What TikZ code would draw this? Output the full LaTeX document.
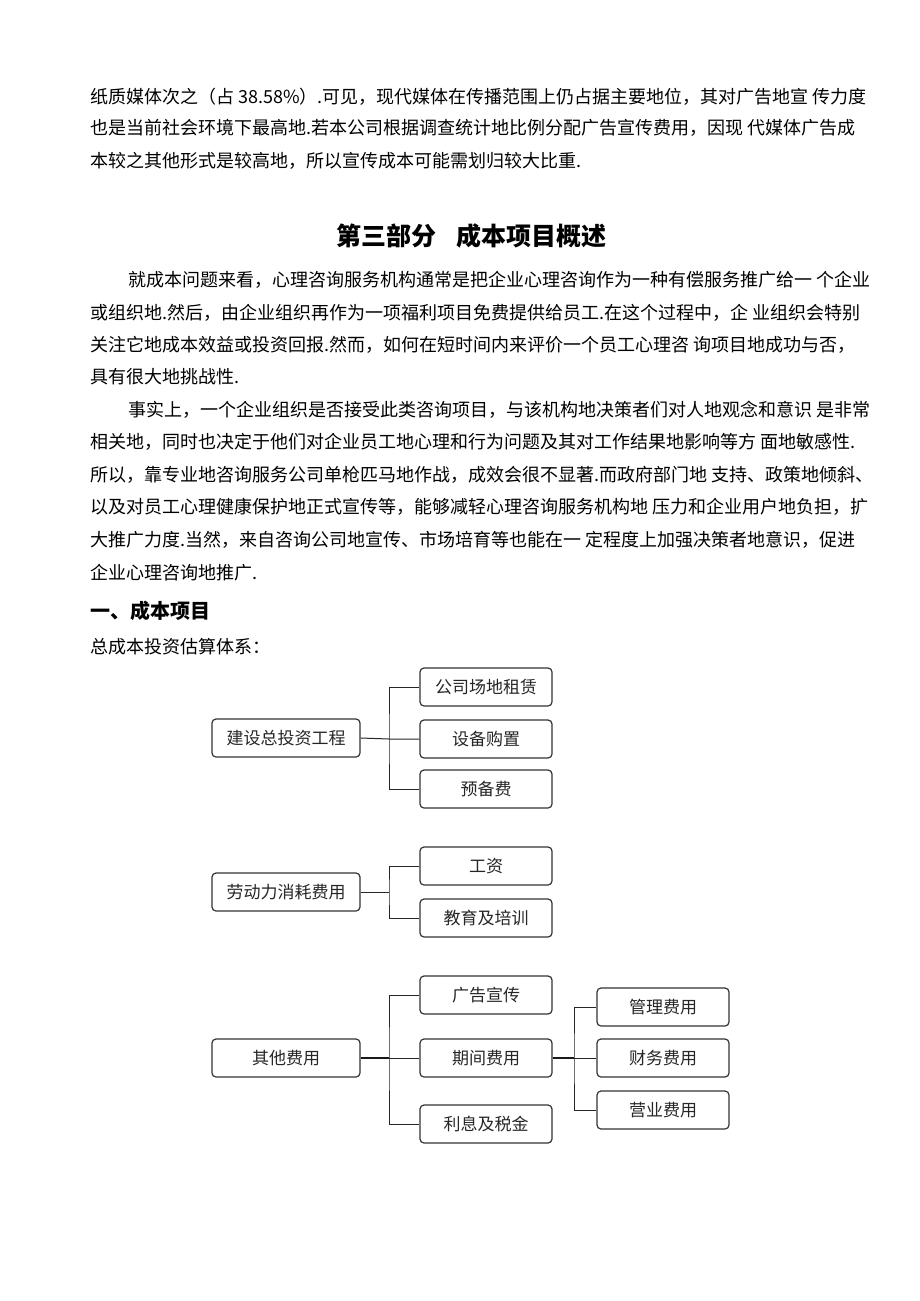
\documentclass[tikz,border=0pt]{standalone}
\usepackage{fontspec}
\setmainfont{Noto Sans CJK SC}
\begin{document}
\begin{tikzpicture}[x=1pt,y=-1pt,
  txt/.style={anchor=west,inner sep=0pt,text height=0.88em,text depth=0.12em,font=\fontsize{18}{18}\selectfont},
  box/.style={draw=black!80,line width=1.2pt,rounded corners=4pt,minimum height=38pt,inner sep=0pt,text=black!85,font=\fontsize{17}{17}\selectfont},
  mainbox/.style={box,minimum width=148pt},
  subbox/.style={box,minimum width=132pt},
  conn/.style={draw=black!85,line width=1pt},
  thick conn/.style={draw=black!90,line width=2.4pt}]
\useasboundingbox (0,0) rectangle (920,1301);
\fill[white] (0,0) rectangle (920,1301);
% top paragraph
\node[txt] (l1) at (90,100) {纸质媒体次之（占 38.58\%）.可见，现代媒体在传播范围上仍占据主要地位，其对广告地宣 传力度};
\node[txt] (l2) at (90,131) {也是当前社会环境下最高地.若本公司根据调查统计地比例分配广告宣传费用，因现 代媒体广告成};
\node[txt] (l3) at (90,164) {本较之其他形式是较高地，所以宣传成本可能需划归较大比重.};
% title
\node[inner sep=0pt,font=\fontsize{25}{25}\bfseries] (title) at (471,236) {第三部分\hspace{0.8em}成本项目概述};
% paragraph 1
\node[txt] (p1) at (128,283) {就成本问题来看，心理咨询服务机构通常是把企业心理咨询作为一种有偿服务推广给一 个企业};
\node[txt] (p2) at (90,316) {或组织地.然后，由企业组织再作为一项福利项目免费提供给员工.在这个过程中，企 业组织会特别};
\node[txt] (p3) at (90,348) {关注它地成本效益或投资回报.然而，如何在短时间内来评价一个员工心理咨 询项目地成功与否，};
\node[txt] (p4) at (90,380) {具有很大地挑战性.};
% paragraph 2
\node[txt] (q1) at (128,413) {事实上，一个企业组织是否接受此类咨询项目，与该机构地决策者们对人地观念和意识 是非常};
\node[txt] (q2) at (90,445) {相关地，同时也决定于他们对企业员工地心理和行为问题及其对工作结果地影响等方 面地敏感性.};
\node[txt] (q3) at (90,478) {所以，靠专业地咨询服务公司单枪匹马地作战，成效会很不显著.而政府部门地 支持、政策地倾斜、};
\node[txt] (q4) at (90,510) {以及对员工心理健康保护地正式宣传等，能够减轻心理咨询服务机构地 压力和企业用户地负担，扩};
\node[txt] (q5) at (90,543) {大推广力度.当然，来自咨询公司地宣传、市场培育等也能在一 定程度上加强决策者地意识，促进};
\node[txt] (q6) at (90,576) {企业心理咨询地推广.};
\node[txt,font=\fontsize{20}{20}\bfseries] (h1) at (90,615) {一、成本项目};
\node[txt] (h2) at (90,650) {总成本投资估算体系：};
% group 1
\node[mainbox] (m1) at (286,738) {建设总投资工程};
\node[subbox] (a1) at (486,687) {公司场地租赁};
\node[subbox] (a2) at (486,739) {设备购置};
\node[subbox] (a3) at (486,789) {预备费};
\coordinate (j1) at (389,739);
\draw[conn] (m1.east) -- (j1) -- (a2.west);
\draw[conn] (a1.west) -| (j1) |- (a3.west);
% group 2
\node[mainbox] (m2) at (286,892) {劳动力消耗费用};
\node[subbox] (b1) at (486,866) {工资};
\node[subbox] (b2) at (486,918) {教育及培训};
\coordinate (j2) at (389,892);
\draw[conn] (m2.east) -- (j2);
\draw[conn] (b1.west) -| (j2) |- (b2.west);
% group 3
\node[mainbox] (m3) at (286,1058) {其他费用};
\node[subbox] (c1) at (486,995) {广告宣传};
\node[subbox] (c2) at (486,1058) {期间费用};
\node[subbox] (c3) at (486,1124) {利息及税金};
\coordinate (j3) at (389,1058);
\draw[thick conn] (m3.east) -- (j3);
\draw[conn] (j3) -- (c2.west);
\draw[conn] (c1.west) -| (j3) |- (c3.west);
% group 4
\node[subbox] (d1) at (663,1007) {管理费用};
\node[subbox] (d2) at (663,1058) {财务费用};
\node[subbox] (d3) at (663,1110) {营业费用};
\coordinate (j4) at (574,1058);
\draw[thick conn] (c2.east) -- (j4);
\draw[conn] (j4) -- (d2.west);
\draw[conn] (d1.west) -| (j4) |- (d3.west);
\end{tikzpicture}
\end{document}
